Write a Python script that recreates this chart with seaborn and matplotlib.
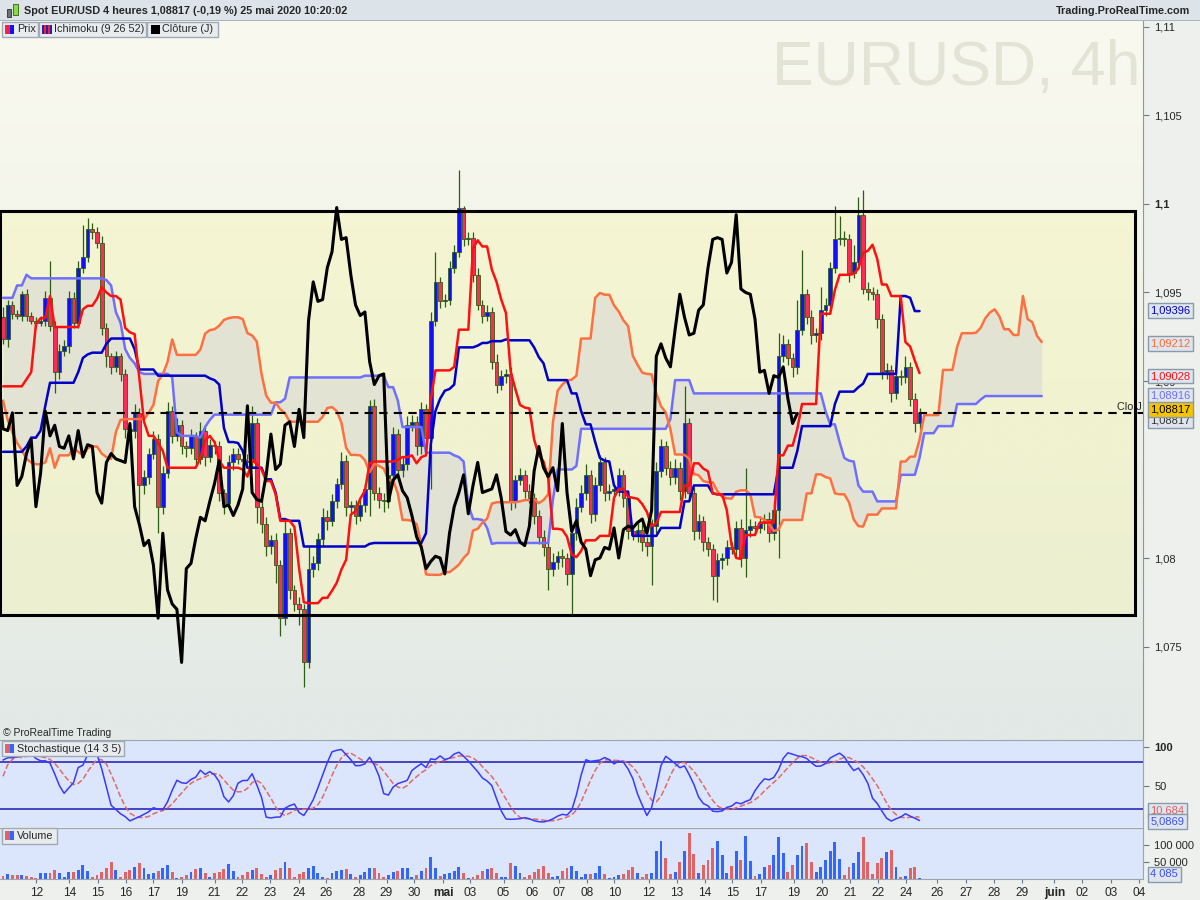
import numpy as np
import pandas as pd
import matplotlib
matplotlib.use("Agg")
import matplotlib.pyplot as plt
import seaborn as sns
from matplotlib.patches import Rectangle
from matplotlib.colors import LinearSegmentedColormap
from matplotlib.transforms import blended_transform_factory
from matplotlib.ticker import FixedLocator, FuncFormatter

sns.set_style("ticks")
plt.rcParams['font.family'] = ['Liberation Sans', 'DejaVu Sans']

# ---------------- data (EUR/USD 4h bars) ----------------
first_open = 1.0936
close = [
    1.0924, 1.0943, 1.0938, 1.0937, 1.0949, 1.0937, 1.0934, 1.0933, 1.0934, 1.0947,
    1.0931, 1.0905, 1.0917, 1.0920, 1.0947, 1.0933, 1.0964, 1.0970, 1.0986, 1.0984,
    1.0978, 1.0930, 1.0914, 1.0908, 1.0914, 1.0904, 1.0873, 1.0872, 1.0882, 1.0841,
    1.0846, 1.0859, 1.0867, 1.0829, 1.0848, 1.0883, 1.0869, 1.0875, 1.0863, 1.0862,
    1.0869, 1.0856, 1.0872, 1.0857, 1.0864, 1.0863, 1.0837, 1.0831, 1.0854, 1.0859,
    1.0856, 1.0855, 1.0854, 1.0876, 1.0829, 1.0819, 1.0807, 1.0810, 1.0796, 1.0766,
    1.0814, 1.0782, 1.0774, 1.0771, 1.0741, 1.0794, 1.0797, 1.0811, 1.0823, 1.0821,
    1.0832, 1.0842, 1.0855, 1.0829, 1.0830, 1.0824, 1.0830, 1.0839, 1.0886, 1.0837,
    1.0833, 1.0832, 1.0847, 1.0870, 1.0850, 1.0853, 1.0875, 1.0877, 1.0863, 1.0884,
    1.0868, 1.0934, 1.0956, 1.0945, 1.0946, 1.0964, 1.0973, 1.0998, 1.0980, 1.0981,
    1.0960, 1.0943, 1.0937, 1.0939, 1.0911, 1.0898, 1.0903, 1.0904, 1.0832, 1.0844,
    1.0847, 1.0838, 1.0834, 1.0824, 1.0812, 1.0806, 1.0794, 1.0798, 1.0801, 1.0800,
    1.0791, 1.0814, 1.0829, 1.0837, 1.0847, 1.0825, 1.0841, 1.0854, 1.0837, 1.0838,
    1.0839, 1.0847, 1.0834, 1.0815, 1.0813, 1.0816, 1.0809, 1.0807, 1.0818, 1.0849,
    1.0863, 1.0851, 1.0846, 1.0851, 1.0838, 1.0876, 1.0837, 1.0815, 1.0821, 1.0809,
    1.0805, 1.0790, 1.0799, 1.0800, 1.0806, 1.0805, 1.0817, 1.0800, 1.0816, 1.0818,
    1.0817, 1.0820, 1.0822, 1.0814, 1.0827, 1.0914, 1.0921, 1.0913, 1.0908, 1.0929,
    1.0949, 1.0936, 1.0926, 1.0927, 1.0940, 1.0943, 1.0964, 1.0980, 1.0981, 1.0980,
    1.0961, 1.0967, 1.0994, 1.0952, 1.0950, 1.0949, 1.0935, 1.0905, 1.0906, 1.0893,
    1.0903, 1.0902, 1.0908, 1.0890, 1.0876, 1.08817,
]
upper_wick_pips = [
    6, 3, 2, 2, 2, 3, 2, 2, 3, 4,
    21, 3, 4, 3, 4, 3, 4, 18, 6, 3,
    3, 4, 3, 2, 3, 2, 3, 3, 5, 3,
    4, 3, 5, 3, 4, 5, 3, 4, 3, 3,
    4, 2, 5, 3, 3, 2, 3, 2, 4, 3,
    3, 2, 4, 10, 3, 3, 4, 3, 4, 3,
    8, 3, 3, 4, 3, 12, 4, 3, 5, 4,
    4, 3, 5, 3, 2, 3, 4, 3, 3, 4,
    3, 4, 5, 4, 3, 4, 5, 4, 3, 4,
    3, 5, 17, 3, 3, 4, 4, 21, 1, 3,
    3, 4, 3, 4, 3, 4, 3, 3, 4, 3,
    4, 3, 4, 3, 3, 4, 3, 5, 3, 4,
    3, 4, 5, 4, 6, 3, 5, 4, 3, 4,
    3, 4, 3, 3, 3, 4, 3, 3, 4, 5,
    4, 3, 4, 5, 3, 21, 3, 3, 4, 3,
    3, 3, 4, 3, 4, 3, 4, 5, 35, 4,
    3, 4, 3, 4, 5, 13, 5, 3, 3, 17,
    25, 3, 4, 3, 13, 4, 3, 19, 12, 4,
    3, 10, 10, 14, 4, 3, 3, 3, 4, 3,
    4, 3, 6, 3, 3, 3,
]
lower_wick_pips = [
    3, 5, 3, 2, 3, 3, 2, 3, 2, 3,
    3, 12, 4, 3, 4, 3, 3, 3, 3, 4,
    3, 4, 6, 4, 3, 4, 5, 6, 4, 20,
    5, 4, 3, 15, 4, 3, 4, 3, 4, 5,
    3, 4, 3, 5, 3, 4, 5, 6, 3, 4,
    3, 4, 3, 3, 9, 5, 6, 5, 10, 10,
    4, 5, 4, 9, 14, 3, 5, 4, 4, 5,
    3, 4, 3, 5, 4, 5, 3, 4, 15, 4,
    5, 6, 4, 3, 5, 4, 3, 3, 5, 4,
    4, 29, 3, 4, 3, 3, 3, 3, 4, 3,
    4, 3, 4, 3, 4, 5, 3, 4, 5, 4,
    3, 4, 3, 5, 4, 5, 12, 4, 4, 5,
    6, 24, 4, 3, 4, 5, 4, 3, 5, 4,
    3, 4, 5, 4, 3, 4, 5, 6, 22, 4,
    3, 4, 5, 4, 5, 4, 4, 5, 4, 5,
    4, 14, 15, 5, 4, 3, 4, 5, 11, 4,
    4, 3, 4, 5, 4, 27, 3, 4, 6, 4,
    3, 4, 5, 4, 4, 3, 4, 3, 3, 4,
    5, 3, 4, 3, 4, 3, 5, 4, 4, 5,
    3, 4, 3, 4, 5, 3,
]
volume = [
    8800, 14700, 11800, 11800, 10800, 8800, 6900, 2900, 17600, 17600,
    17600, 26500, 17600, 5900, 20600, 20600, 26500, 41200, 23500, 6900,
    11800, 20600, 32300, 50000, 26500, 5900, 20600, 26500, 35300, 47000,
    32300, 14700, 17600, 23500, 32300, 41200, 20600, 2900, 5900, 11800,
    20600, 29400, 32300, 17600, 5900, 17600, 20600, 29400, 44100, 23500,
    5900, 11800, 20600, 26500, 32300, 14700, 5900, 11800, 26500, 32300,
    50000, 32300, 5900, 14700, 20600, 32300, 38200, 17600, 5900, 2900,
    17600, 23500, 26500, 29400, 14700, 5900, 11800, 20600, 32300, 32300,
    17600, 5900, 11800, 20600, 23500, 32300, 32300, 5900, 11800, 23500,
    32300, 64700, 32300, 8800, 14700, 17600, 23500, 35300, 17600, 2900,
    5900, 11800, 23500, 29400, 32300, 17600, 5900, 5900, 47000, 38200,
    17600, 5900, 11800, 20600, 29400, 38200, 17600, 5900, 8800, 23500,
    32300, 38200, 23500, 5900, 14700, 14700, 17600, 38200, 14700, 2900,
    5900, 11800, 14700, 26500, 35300, 17600, 5900, 14700, 17600, 82300,
    111700, 61700, 14700, 20600, 50000, 82300, 135200, 73500, 17600, 41200,
    55900, 91100, 111700, 70600, 17600, 38200, 82300, 55900, 126400, 52900,
    8800, 14700, 35300, 41200, 70600, 123500, 76400, 20600, 41200, 70600,
    97000, 105800, 50000, 20600, 35300, 55900, 82300, 108800, 58800, 11800,
    35300, 47000, 79400, 123500, 50000, 14700, 47000, 61700, 79400, 85300,
    35300, 5900, 8800, 32300, 35300, 4085,
]
# Ichimoku values at the left edge (their history lies before the window)
tenkan_start = [1.0897, 1.0897, 1.0897, 1.0897, 1.0897, 1.0901, 1.0905, 1.0932]
kijun_start = [1.0860, 1.0860, 1.0860, 1.0860, 1.0860, 1.0863, 1.0868, 1.0868, 1.0872, 1.0886,
               1.0899, 1.0899, 1.0899, 1.0899, 1.0899, 1.0899, 1.0905, 1.0913, 1.0915, 1.0916,
               1.0916, 1.0916, 1.0921, 1.0924, 1.0924, 1.0924, 1.0924, 1.0924, 1.0918]
span_a_start = [1.0889, 1.0878, 1.0871, 1.0865, 1.0861, 1.0856, 1.0854, 1.0853, 1.0853, 1.0854,
                1.0862, 1.0851, 1.0858, 1.0858, 1.0858, 1.0862, 1.0860, 1.0858, 1.0862, 1.0863,
                1.0863, 1.0859, 1.0857, 1.0856, 1.0871, 1.0878]
span_b_start = ([1.0947] * 3 + [1.0954] * 2 + [1.0960] + [1.0958] * 16 + [1.0957, 1.0954, 1.0939,
                1.0933, 1.0918, 1.0913, 1.0910, 1.0905] + [1.0904] * 6 + [1.0902, 1.0871]
                + [1.0869] * 4 + [1.0868, 1.0874, 1.0878] + [1.0881] * 13 + [1.0888] * 2
                + [1.0890] + [1.0902] * 16)
stoch_k_start = [83, 86, 86, 87, 89.5, 90, 91, 85, 82, 82, 79, 65, 50, 40, 47]
stoch_d_start = [62, 77, 84, 87]

tick_positions = [7.1, 14.1, 20.2, 26.1, 32.0, 38.0, 45.0, 50.9, 56.9, 62.9, 68.8, 75.7, 81.6,
                  87.5, 93.7, 99.4, 106.5, 112.5, 118.4, 124.3, 130.1, 137.4, 143.3, 149.3,
                  155.2, 161.2, 168.3, 174.3, 180.2, 186.1, 192.1, 198.7, 204.9, 210.9, 216.8,
                  223.7, 229.6, 235.7, 241.7]
tick_labels = ['12', '14', '15', '16', '17', '19', '21', '22', '23', '24', '26', '28', '29',
               '30', 'mai', '03', '05', '06', '07', '08', '10', '12', '13', '14', '15', '17',
               '19', '20', '21', '22', '24', '26', '27', '28', '29', 'juin', '02', '03', '04']
price_ticks = [1.075, 1.08, 1.09, 1.095, 1.1, 1.105, 1.11]
rect_top, rect_bottom = 1.0996, 1.0768
last_price = 1.08817
line_labels = [1.09396, 1.09212, 1.09028, 1.08916]
stoch_labels = [10.684, 5.0869]
volume_label = 4085

# ---------------- computations ----------------
c = np.array(close)
o = np.r_[first_open, c[:-1]]
h = np.maximum(o, c) + np.array(upper_wick_pips) * 1e-4
l = np.minimum(o, c) - np.array(lower_wick_pips) * 1e-4
n = len(c)
x = np.arange(n)
Hs, Ls = pd.Series(h), pd.Series(l)


def mid(p):
    return ((Hs.rolling(p).max() + Ls.rolling(p).min()) / 2).values


tenkan = mid(9)
tenkan[:len(tenkan_start)] = tenkan_start
kijun = mid(26)
kijun[:len(kijun_start)] = kijun_start
shift = 26
xf = np.arange(n + shift)
span_a = np.full(n + shift, np.nan)
span_a[shift:] = (tenkan + kijun) / 2
span_a[:len(span_a_start)] = span_a_start
span_b = np.full(n + shift, np.nan)
span_b[shift:] = mid(52)
span_b[:len(span_b_start)] = span_b_start

raw = 100 * (c - Ls.rolling(14).min()) / (Hs.rolling(14).max() - Ls.rolling(14).min())
st_k = raw.rolling(3).mean().values
st_k[:len(stoch_k_start)] = stoch_k_start
st_d = pd.Series(st_k).rolling(5).mean().values
st_d[:len(stoch_d_start)] = stoch_d_start

up = c >= o

# ---------------- figure ----------------
W, Hp = 1200, 900
fig = plt.figure(figsize=(12, 9), dpi=100, facecolor='#edf0ec')
FS_TXT = 7.8
FS_Y = 8.0
FS_X = 8.6


def fr(x0, y0, x1, y1):
    return [x0 / W, 1 - y1 / Hp, (x1 - x0) / W, (y1 - y0) / Hp]


def prect(x0, y0, x1, y1, **kw):
    fig.add_artist(Rectangle((x0 / W, 1 - y1 / Hp), (x1 - x0) / W, (y1 - y0) / Hp,
                             transform=fig.transFigure, **kw))


def ptext(px, py, s, **kw):
    fig.text(px / W, 1 - py / Hp, s, **kw)


XMIN, XMAX = -0.64, 242.55
YMIN, YMAX = 1.069718, 1.110395

ax = fig.add_axes(fr(0, 20, 1143, 740))
axs = fig.add_axes(fr(0, 740, 1143, 827))
axv = fig.add_axes(fr(0, 828, 1143, 879))

# background gradient
grad = np.linspace(0, 1, 256).reshape(-1, 1)
cmap = LinearSegmentedColormap.from_list('bg', ['#f9f9f0', '#f0f2e6', '#e2e9e6'])
ax.imshow(grad, extent=[XMIN, XMAX, YMIN, YMAX], aspect='auto', cmap=cmap, zorder=0,
          origin='upper', interpolation='bilinear')
ax.add_patch(Rectangle((XMIN + 0.05, rect_bottom), 240.9 - XMIN, rect_top - rect_bottom,
                       facecolor='#f6f6a8', alpha=0.35, edgecolor='none', zorder=1))
ax.add_patch(Rectangle((XMIN + 0.05, rect_bottom), 240.9 - XMIN, rect_top - rect_bottom,
                       facecolor='none', edgecolor='black', linewidth=2.2, zorder=6))

# cloud
ax.fill_between(xf, span_a, span_b, where=~(np.isnan(span_a) | np.isnan(span_b)),
                color='#d9d9d6', alpha=0.6, zorder=1.5, linewidth=0)

# watermark
ax.text(1140 / 1143, 1 - (85 - 20) / 720, 'EURUSD, 4h', transform=ax.transAxes,
        ha='right', va='baseline', fontsize=45, color='#e3e3d6', zorder=0.5)

# candles
ax.vlines(x, l, h, color='#2c5f12', linewidth=0.9, zorder=3)
body = np.maximum(np.abs(c - o), 0.00004)
ax.bar(x, body, bottom=np.minimum(o, c), width=0.78,
       color=np.where(up, '#1010ff', '#ff2a55'), edgecolor='#2c5f12', linewidth=0.6, zorder=4)

# ichimoku lines
sns.lineplot(x=xf, y=span_b, ax=ax, color='#6f6fff', linewidth=1.8, zorder=5)
sns.lineplot(x=xf, y=span_a, ax=ax, color='#ff7040', linewidth=1.8, zorder=5)
sns.lineplot(x=x, y=kijun, ax=ax, color='#0000c8', linewidth=1.8, zorder=5)
sns.lineplot(x=x, y=tenkan, ax=ax, color='#ff1010', linewidth=1.8, zorder=5)
sns.lineplot(x=x - shift, y=c, ax=ax, color='black', linewidth=2.2, zorder=5)

ax.axhline(last_price, color='black', linewidth=1.5, dashes=(4, 3), zorder=6)
ax.text(237.0, last_price + 0.0001, 'Clo J', fontsize=FS_TXT, va='bottom', ha='left', zorder=7)

ax.set_xlim(XMIN, XMAX)
ax.set_ylim(YMIN, YMAX)
ax.yaxis.tick_right()
ax.yaxis.set_major_locator(FixedLocator(price_ticks))
ax.yaxis.set_major_formatter(FuncFormatter(lambda v, p: ('%g' % v).replace('.', ',')))
ax.tick_params(axis='y', direction='out', length=4, color='#6a7a8a', labelsize=FS_Y, pad=4)
ax.set_xticks([])
for s in ['top', 'left', 'bottom']:
    ax.spines[s].set_visible(False)
ax.spines['right'].set_color('#8a98a6')
for t in ax.get_yticklabels():
    if t.get_text() == '1,1':
        t.set_fontweight('bold')
ax.set_xlabel('')
ax.set_ylabel('')

trm = blended_transform_factory(ax.transAxes, ax.transData)
line_colors = ['#0000c8', '#ff6a30', '#ff1010', '#6f6fff']
box = dict(boxstyle='square,pad=0.22', fc='#dfe5ee', ec='#8a9aaa', lw=1)
for v, col in zip(line_labels, line_colors):
    ax.text(1.0065, v, ('%.5f' % v).replace('.', ','), transform=trm, color=col, fontsize=FS_Y,
            va='center', ha='left', bbox=box, clip_on=False, zorder=10)
ax.text(1.0065, last_price - 0.0004, ('%.5f' % last_price).replace('.', ','), transform=trm,
        color='#303030', fontsize=FS_Y, va='center', ha='left', bbox=box, clip_on=False, zorder=10)
ax.text(1.0065, last_price + 0.0002, ('%.5f' % last_price).replace('.', ','), transform=trm,
        color='black', fontsize=FS_Y, va='center', ha='left', clip_on=False, zorder=11,
        bbox=dict(boxstyle='square,pad=0.22', fc='#f5c400', ec='#8a9aaa', lw=1))

# ---------------- stochastic ----------------
axs.set_facecolor('#dbe5fb')
axs.axhline(80, color='#2a2ab8', linewidth=1.2, zorder=2)
axs.axhline(20, color='#2a2ab8', linewidth=1.2, zorder=2)
sns.lineplot(x=x, y=st_d, ax=axs, color='#e46a6a', linewidth=1.1, linestyle='--', zorder=3)
sns.lineplot(x=x, y=st_k, ax=axs, color='#3a3aff', linewidth=1.1, zorder=4)
axs.set_xlim(XMIN, XMAX)
axs.set_ylim(-3.5, 108.9)
axs.yaxis.tick_right()
axs.set_yticks([50, 100])
axs.set_yticklabels(['50', '100'])
axs.get_yticklabels()[1].set_fontweight('bold')
axs.tick_params(axis='y', direction='out', length=4, color='#6a7a8a', labelsize=FS_Y, pad=4)
axs.set_xticks([])
axs.set_xlabel('')
axs.set_ylabel('')
for s in ['left', 'bottom']:
    axs.spines[s].set_visible(False)
for s in ['top', 'right']:
    axs.spines[s].set_color('#9aa6b2')
trs = blended_transform_factory(axs.transAxes, axs.transData)
axs.text(1.0065, stoch_labels[0] + 7, ('%.3f' % stoch_labels[0]).replace('.', ','), transform=trs,
         color='#e06060', fontsize=FS_Y, va='center', ha='left', bbox=box, clip_on=False, zorder=10)
axs.text(1.0065, stoch_labels[1] - 1, ('%.4f' % stoch_labels[1]).replace('.', ','), transform=trs,
         color='#3a50ff', fontsize=FS_Y, va='center', ha='left', bbox=box, clip_on=False, zorder=11)

# ---------------- volume ----------------
axv.set_facecolor('#dbe5fb')
axv.bar(x, volume, width=0.62, color=np.where(up, '#3366ff', '#e06464'), linewidth=0, zorder=3)
axv.set_xlim(XMIN, XMAX)
axv.set_ylim(0, 150000)
axv.yaxis.tick_right()
axv.set_yticks([50000, 100000])
axv.set_yticklabels(['50 000', '100 000'])
axv.tick_params(axis='y', direction='out', length=4, color='#6a7a8a', labelsize=FS_Y, pad=4)
axv.set_xticks(tick_positions)
axv.set_xticklabels(tick_labels)
axv.tick_params(axis='x', direction='out', length=3, color='#6a7a8a', labelsize=FS_X, pad=3)
for t in axv.get_xticklabels():
    if t.get_text() in ('mai', 'juin'):
        t.set_fontweight('bold')
for s in ['left']:
    axv.spines[s].set_visible(False)
for s in ['top', 'right', 'bottom']:
    axv.spines[s].set_color('#9aa6b2')
trv = blended_transform_factory(axv.transAxes, axv.transData)
axv.text(1.0065, 14000, f'{volume_label:,}'.replace(',', ' '), transform=trv, color='#3a50ff',
         fontsize=FS_Y, va='center', ha='left', bbox=box, clip_on=False, zorder=10)

# ---------------- header, legends ----------------
prect(0, 0, 1200, 20, facecolor='#dde4e9', edgecolor='none')
prect(0, 19.5, 1200, 20.5, facecolor='#a8b4be', edgecolor='none')
prect(7, 9, 11, 17, facecolor='#707070', edgecolor='#303030', linewidth=0.6)
prect(13, 4, 18, 15, facecolor='#88dd44', edgecolor='#306010', linewidth=0.6)
ptext(24, 10.5, 'Spot EUR/USD 4 heures 1,08817 (-0,19 %) 25 mai 2020 10:20:02',
      fontsize=FS_TXT, fontweight='bold', va='center', ha='left')
ptext(1190, 10.5, 'Trading.ProRealTime.com', fontsize=FS_TXT, fontweight='bold', va='center',
      ha='right')

legend_boxes = [(2, 38, 'Prix'), (39, 146, 'Ichimoku (9 26 52)'), (147, 218, 'Clôture (J)')]
for x0, x1, s in legend_boxes:
    prect(x0, 22, x1, 37, facecolor='#e9ecee', edgecolor='#a0aab4', linewidth=1)
    ptext(x0 + 15, 29.5, s, fontsize=FS_TXT, va='center', ha='left')
prect(5, 25, 9.5, 34, facecolor='#ff2040', edgecolor='none')
prect(9.5, 25, 14, 34, facecolor='#1010ff', edgecolor='none')
for i, col in enumerate(['#2020c0', '#ff2020', '#2020c0', '#ff2020', '#2020c0']):
    prect(42 + i * 2, 25, 44 + i * 2, 34, facecolor=col, edgecolor='none')
prect(151, 25, 160, 34, facecolor='black', edgecolor='none')

ptext(3, 733, '© ProRealTime Trading', fontsize=7.5, va='center', ha='left')

prect(2, 741, 124, 756, facecolor='#e9ecee', edgecolor='#a0aab4', linewidth=1)
prect(5, 744, 9.5, 753, facecolor='#e06464', edgecolor='none')
prect(9.5, 744, 14, 753, facecolor='#3366ff', edgecolor='none')
ptext(17, 748.5, 'Stochastique (14 3 5)', fontsize=FS_TXT, va='center', ha='left')

prect(2, 828, 57, 844, facecolor='#e9ecee', edgecolor='#a0aab4', linewidth=1)
prect(5, 831, 9.5, 840, facecolor='#e06464', edgecolor='none')
prect(9.5, 831, 14, 840, facecolor='#3366ff', edgecolor='none')
ptext(17, 836, 'Volume', fontsize=FS_TXT, va='center', ha='left')

fig.savefig('out.png', dpi=100, facecolor=fig.get_facecolor())
